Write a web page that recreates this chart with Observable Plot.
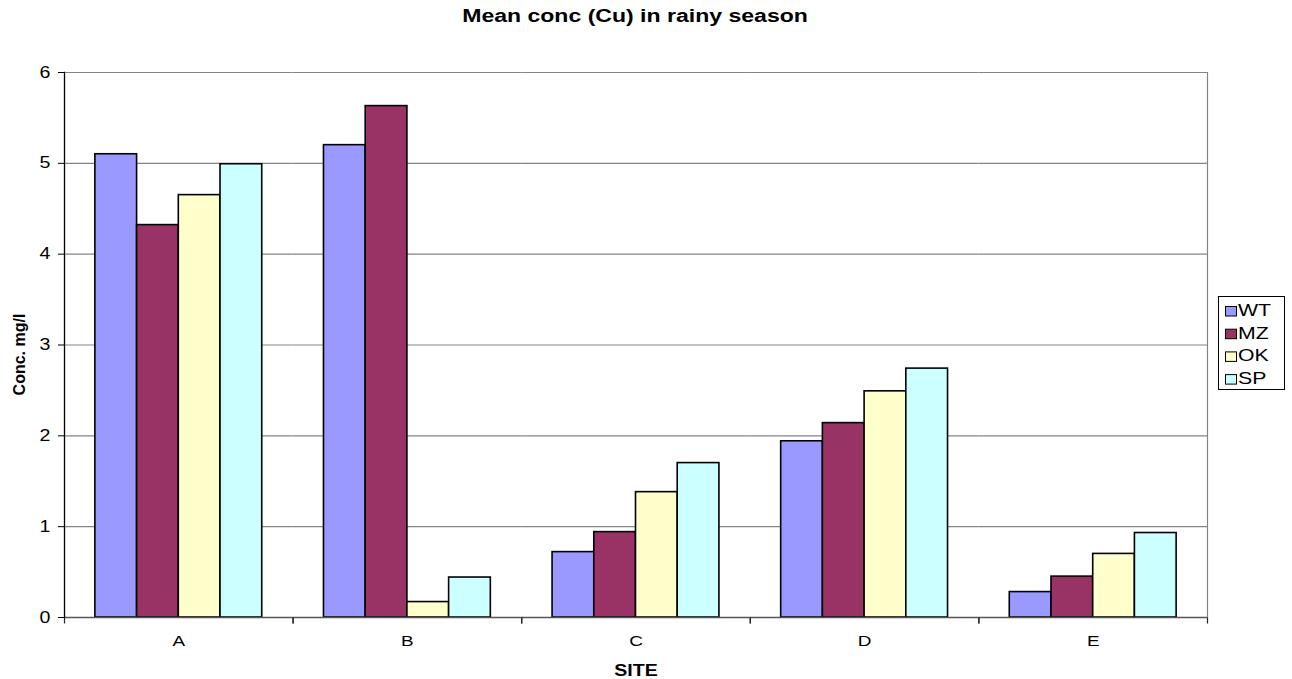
<!DOCTYPE html>
<html>
<head>
<meta charset="utf-8">
<script src="https://cdn.jsdelivr.net/npm/d3@7"></script>
<script src="https://cdn.jsdelivr.net/npm/@observablehq/plot@0.6"></script>
<style>
  html, body { margin: 0; padding: 0; background: #fff; }
  #chart { position: relative; width: 1292px; height: 679px; font-family: "Liberation Sans", Arial, sans-serif; }
  #chart > svg.plot { position: absolute; left: 0; top: 0; }
  #title { position: absolute; left: 64px; width: 1143px; top: 7px; text-align: center;
           font-weight: bold; font-size: 18px; line-height: 18px; color: #000; }
  #title span { display: inline-block; transform: scaleX(1.28); }
  g[aria-label="fx-axis label"] text { font-weight: bold; font-size: 16px; }
</style>
</head>
<body>
<div id="chart">
  <div id="title"><span>Mean conc (Cu) in rainy season</span></div>
</div>
<script>
// Sampling sites and the four series measured at each one
const sites = ["A", "B", "C", "D", "E"];
const seriesNames = ["WT", "MZ", "OK", "SP"];

// Mean copper concentration (mg/l) per site, one array per series
const wt = [5.10, 5.20, 0.72, 1.94, 0.28];
const mz = [4.32, 5.63, 0.94, 2.14, 0.45];
const ok = [4.65, 0.17, 1.38, 2.49, 0.70];
const sp = [4.99, 0.44, 1.70, 2.74, 0.93];

const seriesColors = ["#9999ff", "#993366", "#ffffcc", "#ccffff"];
const yTicks = [0, 1, 2, 3, 4, 5, 6];

// Long table for Plot: one row per site × series
const seriesValues = [wt, mz, ok, sp];
const rows = sites.flatMap((site, i) =>
  seriesNames.map((name, j) => ({site, series: name, value: seriesValues[j][i]}))
);

// Short downward stroke used for the category boundary ticks
const downTick = {draw(ctx) { ctx.moveTo(0, 0); ctx.lineTo(0, 6); }};

const chart = Plot.plot({
  width: 1292,
  height: 679,
  marginTop: 72,
  marginRight: 85,
  marginBottom: 62,
  marginLeft: 64,
  style: {fontFamily: '"Liberation Sans", Arial, sans-serif', background: "white", color: "black", overflow: "visible"},
  fx: {domain: sites, padding: 0, round: false},
  x: {domain: seriesNames, paddingInner: 0, paddingOuter: 0.74, round: false, axis: null},
  y: {domain: [0, 6]},
  color: {domain: seriesNames, range: seriesColors},
  marks: [
    Plot.gridY(yTicks.slice(1), {stroke: "#858585", strokeOpacity: 1, strokeWidth: 1.2}),
    Plot.barY(rows, {fx: "site", x: "series", y: "value", fill: "series", stroke: "black", strokeWidth: 1.6}),
    Plot.ruleY([0], {stroke: "#555", strokeWidth: 1.3}),
    Plot.frame({anchor: "left", facetAnchor: "left", stroke: "black", strokeWidth: 1.3}),
    Plot.frame({anchor: "right", facetAnchor: "right", stroke: "#858585", strokeWidth: 1.2}),
    Plot.dot([0], {x: null, y: null, frameAnchor: "bottom-left", symbol: downTick, stroke: "#222", fill: "none", strokeWidth: 1.2}),
    Plot.dot([0], {x: null, y: null, frameAnchor: "bottom-right", symbol: downTick, stroke: "#222", fill: "none", strokeWidth: 1.2}),
    Plot.axisY(yTicks, {anchor: "left", tickSize: 6, tickPadding: 8, tickFormat: d3.format("d"), label: null, fontSize: 16}),
    Plot.axisFx({anchor: "bottom", tickSize: 0, tickPadding: 17, fontSize: 15.5, label: "SITE", labelAnchor: "center", labelOffset: 58}),
    Plot.text(["Conc. mg/l"], {text: d => d, frameAnchor: "left", facetAnchor: "left", textAnchor: "middle", rotate: -90, dx: -45, dy: 9.5, fontSize: 16, fontWeight: "bold"})
  ]
});

const host = document.getElementById("chart");
host.insertBefore(chart, host.firstChild);

// Widen the horizontal labels slightly, keeping the glyph height
chart.querySelectorAll("text").forEach(t => {
  if (t.closest('g[aria-label="text"]')) return; // rotated axis title stays as is
  const w = t.getComputedTextLength();
  if (w > 0) {
    t.setAttribute("textLength", (w * 1.22).toFixed(1));
    t.setAttribute("lengthAdjust", "spacingAndGlyphs");
  }
});

// Series key on the right
const legend = d3.select(host).append("svg")
  .attr("width", 68).attr("height", 95)
  .style("position", "absolute").style("left", "1218px").style("top", "296px")
  .style("font-family", '"Liberation Sans", Arial, sans-serif');
legend.append("rect")
  .attr("x", 0.5).attr("y", 0.5).attr("width", 66).attr("height", 93)
  .attr("fill", "white").attr("stroke", "black");
seriesNames.forEach((name, i) => {
  const g = legend.append("g").attr("transform", `translate(0,${(i * 22.7).toFixed(1)})`);
  g.append("rect")
    .attr("x", 7.5).attr("y", 10.5).attr("width", 11).attr("height", 9.5)
    .attr("fill", seriesColors[i]).attr("stroke", "black");
  g.append("text")
    .attr("transform", "translate(20,20) scale(1.25,1)")
    .attr("font-size", 17).attr("fill", "black")
    .text(name);
});
</script>
</body>
</html>
